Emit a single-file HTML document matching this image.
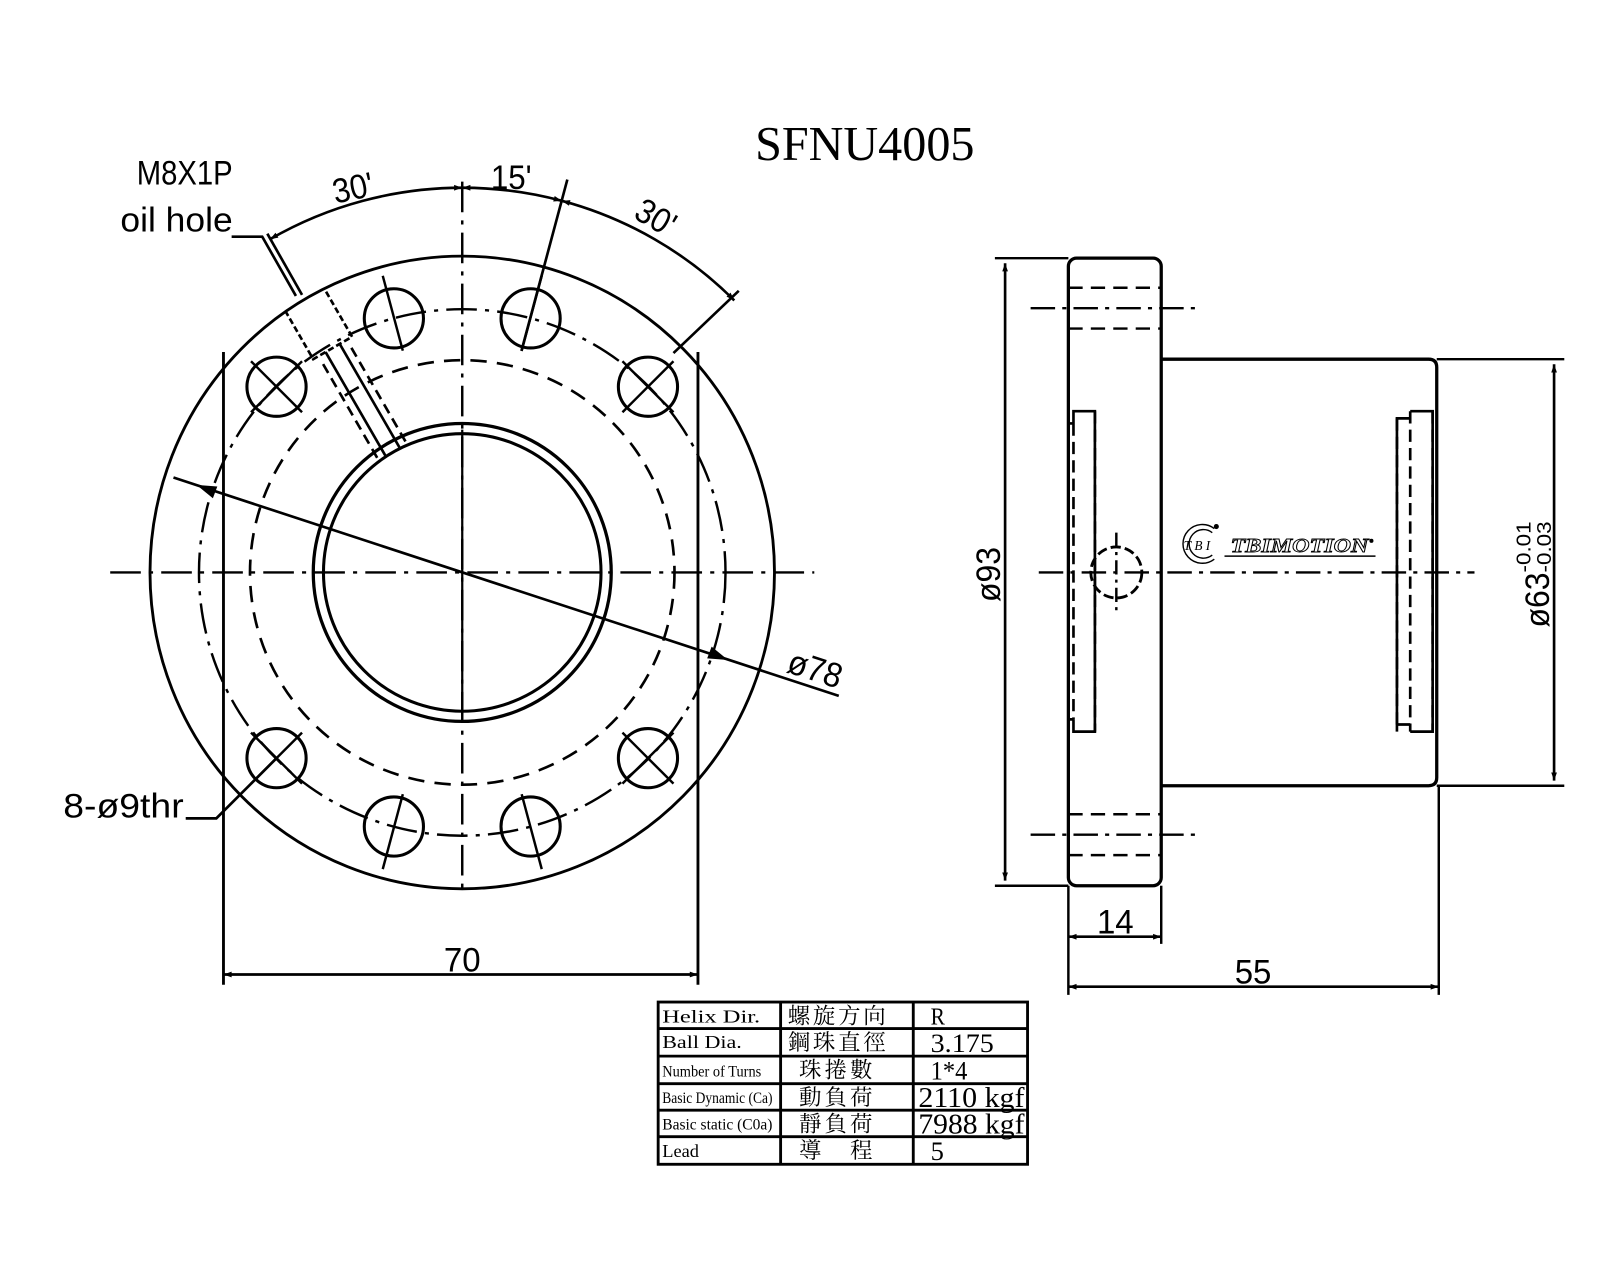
<!DOCTYPE html>
<html><head><meta charset="utf-8"><style>
html,body{margin:0;padding:0;background:#fff}
svg{display:block}
text{font-family:"Liberation Sans","Noto Sans CJK TC",sans-serif;fill:#000}
.s{font-family:"Liberation Serif","Noto Serif CJK SC",serif}
</style></head><body>
<svg width="1600" height="1280" viewBox="0 0 1568 1254.4" xmlns="http://www.w3.org/2000/svg">
<defs>
<marker id="a" viewBox="0 0 10 10" refX="10" refY="5" markerWidth="14" markerHeight="8" orient="auto-start-reverse" markerUnits="userSpaceOnUse"><path d="M0,1.5 L10,5 L0,8.5 z" fill="#000"/></marker>
</defs>
<g fill="none" stroke="#000" stroke-width="2.8">
<!-- LEFT VIEW -->
<ellipse cx="453" cy="561" rx="306" ry="310"/>
<line x1="219" y1="345" x2="219" y2="965"/>
<line x1="684" y1="345" x2="684" y2="965"/>
<circle cx="453" cy="561" r="258" stroke-dasharray="30,8,4,8" stroke-width="2.4"/>
<circle cx="453" cy="561" r="208" stroke-dasharray="16,10" stroke-width="2.6"/>
<circle cx="453" cy="561" r="146" stroke-width="3.2"/>
<circle cx="453" cy="561" r="136" stroke-width="3"/>
<line x1="453" y1="421" x2="453" y2="700" stroke-width="2.2"/>
<!-- centerlines -->
<line x1="108" y1="561" x2="798" y2="561" stroke-dasharray="30,8,4,8" stroke-width="2.4"/>
<line x1="453" y1="178" x2="453" y2="872" stroke-dasharray="30,8,4,8" stroke-width="2.4"/>
<!-- holes -->
<g stroke-width="3">
<circle cx="386" cy="312" r="29"/><circle cx="520" cy="312" r="29"/>
<circle cx="635" cy="379" r="29"/><circle cx="271" cy="379" r="29"/>
<circle cx="635" cy="743" r="29"/><circle cx="271" cy="743" r="29"/>
<circle cx="386" cy="810" r="29"/><circle cx="520" cy="810" r="29"/>
</g>
<g stroke-width="2.4">
<g transform="rotate(15 453 561)"><line x1="453" y1="260" x2="453" y2="336"/></g>
<g transform="rotate(-15 453 561)"><line x1="453" y1="260" x2="453" y2="336"/></g>
<g transform="rotate(165 453 561)"><line x1="453" y1="260" x2="453" y2="336"/></g>
<g transform="rotate(-165 453 561)"><line x1="453" y1="260" x2="453" y2="336"/></g>
<line x1="610" y1="354" x2="660" y2="404"/><line x1="610" y1="404" x2="660" y2="354"/>
<line x1="246" y1="354" x2="296" y2="404"/><line x1="246" y1="404" x2="296" y2="354"/>
<line x1="610" y1="718" x2="660" y2="768"/><line x1="610" y1="768" x2="660" y2="718"/>
<line x1="246" y1="718" x2="296" y2="768"/><line x1="246" y1="768" x2="296" y2="718"/>
</g>
<!-- oil hole -->
<g transform="rotate(-30 453 561)" stroke-width="2.6">
<path d="M431,252 V307 H475 V252" stroke-dasharray="6,3"/>
<line x1="445" y1="307" x2="445" y2="424"/>
<line x1="461" y1="307" x2="461" y2="424"/>
<line x1="437" y1="316" x2="437" y2="424" stroke-dasharray="10,6"/>
<line x1="469" y1="316" x2="469" y2="424" stroke-dasharray="10,6"/>
</g>
<!-- angle dims -->
<path d="M264.5,234.5 A377,377 0 0 1 453,184" marker-start="url(#a)" marker-end="url(#a)" stroke-width="2.6"/>
<path d="M453,184 A377,377 0 0 1 550.6,196.8" marker-start="url(#a)" marker-end="url(#a)" stroke-width="2.6"/>
<path d="M550.6,196.8 A377,377 0 0 1 719.6,294.4" marker-start="url(#a)" marker-end="url(#a)" stroke-width="2.6"/>
<line x1="511" y1="344" x2="556" y2="176" stroke-width="2.6"/>
<line x1="660" y1="346" x2="724" y2="285" stroke-width="2.6"/>
<!-- oil hole leader -->
<polyline points="227,232 257,232 290,290" stroke-width="2.6"/>
<line x1="262" y1="229" x2="296" y2="289" stroke-width="2.6"/>
<!-- dia78 -->
<line x1="170" y1="468" x2="822" y2="682" stroke-width="2.6"/>
<path d="M197,477 l14,1 l-3,8 z" fill="#000"/>
<path d="M709,645 l-14,-1 l3,-8 z" fill="#000"/>
<!-- 8-hole leader -->
<polyline points="182,802 212,802 271,743" stroke-width="2.6"/>
<!-- 70 dim -->
<line x1="219" y1="955" x2="684" y2="955" marker-start="url(#a)" marker-end="url(#a)" stroke-width="2.6"/>

<!-- RIGHT VIEW -->
<rect x="1047" y="253" width="91" height="615" rx="8" stroke-width="3.2"/>
<path d="M1138,352 H1400 Q1408,352 1408,360 V762 Q1408,770 1400,770 H1138" stroke-width="3.2"/>
<line x1="1047" y1="253" x2="975" y2="253" stroke-width="2.4"/>
<line x1="1047" y1="868" x2="975" y2="868" stroke-width="2.4"/>
<line x1="985" y1="258" x2="985" y2="863" marker-start="url(#a)" marker-end="url(#a)" stroke-width="2.6"/>
<line x1="1408" y1="352" x2="1533" y2="352" stroke-width="2.4"/>
<line x1="1408" y1="770" x2="1533" y2="770" stroke-width="2.4"/>
<line x1="1523" y1="357" x2="1523" y2="765" marker-start="url(#a)" marker-end="url(#a)" stroke-width="2.6"/>
<line x1="1018" y1="561" x2="1445" y2="561" stroke-dasharray="24,7,4,7" stroke-width="2.4"/>
<line x1="1010" y1="302" x2="1175" y2="302" stroke-dasharray="24,7,4,7" stroke-width="2.4"/>
<line x1="1010" y1="818" x2="1175" y2="818" stroke-dasharray="24,7,4,7" stroke-width="2.4"/>
<line x1="1047" y1="282" x2="1138" y2="282" stroke-dasharray="14,8" stroke-width="2.4"/>
<line x1="1047" y1="322" x2="1138" y2="322" stroke-dasharray="14,8" stroke-width="2.4"/>
<line x1="1047" y1="798" x2="1138" y2="798" stroke-dasharray="14,8" stroke-width="2.4"/>
<line x1="1047" y1="838" x2="1138" y2="838" stroke-dasharray="14,8" stroke-width="2.4"/>
<!-- left dashed rect -->
<path d="M1052,415 V403 H1073 V717 H1052 V705 M1047,415 H1052 M1047,705 H1052" stroke-width="2.6"/>
<line x1="1052" y1="415" x2="1052" y2="705" stroke-dasharray="12,6" stroke-width="2.6"/>
<line x1="1073" y1="403" x2="1073" y2="717" stroke-dasharray="12,6" stroke-width="2.6"/>
<!-- right dashed rects -->
<path d="M1369,717 V410 H1382 M1382,403 H1404 V717 H1382 M1369,710 H1382" stroke-width="2.6"/>
<line x1="1369" y1="410" x2="1369" y2="710" stroke-dasharray="12,6" stroke-width="2.6"/>
<line x1="1382" y1="403" x2="1382" y2="717" stroke-dasharray="12,6" stroke-width="2.6"/>
<line x1="1404" y1="403" x2="1404" y2="717" stroke-dasharray="12,6" stroke-width="2.6"/>
<!-- small circle -->
<circle cx="1094" cy="561" r="25" stroke-dasharray="10,4" stroke-width="2.8"/>
<line x1="1094" y1="522" x2="1094" y2="602" stroke-dasharray="14,5,3,5" stroke-width="2.4"/>
<!-- 14 / 55 dims -->
<line x1="1047" y1="868" x2="1047" y2="975" stroke-width="2.4"/>
<line x1="1138" y1="868" x2="1138" y2="925" stroke-width="2.4"/>
<line x1="1410" y1="770" x2="1410" y2="975" stroke-width="2.4"/>
<line x1="1047" y1="918" x2="1138" y2="918" marker-start="url(#a)" marker-end="url(#a)" stroke-width="2.6"/>
<line x1="1047" y1="967" x2="1410" y2="967" marker-start="url(#a)" marker-end="url(#a)" stroke-width="2.6"/>
<!-- logo -->
<path d="M1190,518 A19,19 0 1 0 1190,548" stroke-width="1.4"/>
<path d="M1188,522 A14,14 0 1 0 1188,544" stroke-width="1.4"/>
<line x1="1200" y1="545" x2="1348" y2="545" stroke-width="1.4"/>
</g>
<circle cx="1192" cy="516" r="2.5" fill="#000"/>
<text x="1160" y="539" class="s" font-size="13" font-style="italic" textLength="26">TBI</text>
<text x="1206" y="541" class="s" font-size="20" font-style="italic" font-weight="bold" textLength="135" lengthAdjust="spacingAndGlyphs" stroke="#000" stroke-width="0.9" style="fill:#fff">TBIMOTION</text>
<circle cx="1344" cy="530" r="2" fill="#000"/>

<!-- texts -->
<text x="740" y="157" class="s" font-size="48" textLength="215" lengthAdjust="spacingAndGlyphs">SFNU4005</text>
<g font-size="34">
<text x="134" y="181" textLength="94" lengthAdjust="spacingAndGlyphs">M8X1P</text>
<text x="118" y="227" textLength="110" lengthAdjust="spacingAndGlyphs">oil hole</text>
<text x="326" y="196" transform="rotate(-12 345 185)" textLength="40" lengthAdjust="spacingAndGlyphs">30'</text>
<text x="481" y="185" textLength="40" lengthAdjust="spacingAndGlyphs">15'</text>
<text x="622" y="226" transform="rotate(30 645 215)" textLength="40" lengthAdjust="spacingAndGlyphs">30'</text>
<text x="772" y="666" transform="rotate(18 795 655)" textLength="54" lengthAdjust="spacingAndGlyphs">ø78</text>
<text x="62" y="801" textLength="118" lengthAdjust="spacingAndGlyphs">8-ø9thr</text>
<text x="435" y="952" textLength="36" lengthAdjust="spacingAndGlyphs">70</text>
<text x="1075" y="915" textLength="36" lengthAdjust="spacingAndGlyphs">14</text>
<text x="1210" y="964" textLength="36" lengthAdjust="spacingAndGlyphs">55</text>
<text x="0" y="0" transform="translate(980,590) rotate(-90)" textLength="54" lengthAdjust="spacingAndGlyphs">ø93</text>
<text x="0" y="0" transform="translate(1518,615) rotate(-90)" textLength="54" lengthAdjust="spacingAndGlyphs">ø63</text>
</g>
<text x="0" y="0" font-size="20" transform="translate(1500,561) rotate(-90)" textLength="50" lengthAdjust="spacingAndGlyphs">-0.01</text>
<text x="0" y="0" font-size="20" transform="translate(1520,561) rotate(-90)" textLength="50" lengthAdjust="spacingAndGlyphs">-0.03</text>

<!-- table -->
<g fill="none" stroke="#000" stroke-width="2.8">
<rect x="645" y="982" width="362" height="159"/>
<line x1="765" y1="982" x2="765" y2="1141"/>
<line x1="895" y1="982" x2="895" y2="1141"/>
<line x1="645" y1="1008" x2="1007" y2="1008"/>
<line x1="645" y1="1035" x2="1007" y2="1035"/>
<line x1="645" y1="1062" x2="1007" y2="1062"/>
<line x1="645" y1="1088" x2="1007" y2="1088"/>
<line x1="645" y1="1114" x2="1007" y2="1114"/>
</g>
<g class="s">
<text x="649" y="1002" class="s" font-size="18" textLength="96" lengthAdjust="spacingAndGlyphs">Helix  Dir.</text>
<text x="649" y="1027" class="s" font-size="18" textLength="78" lengthAdjust="spacingAndGlyphs">Ball Dia.</text>
<text x="649" y="1055" class="s" font-size="15" textLength="97" lengthAdjust="spacingAndGlyphs">Number of Turns</text>
<text x="649" y="1081" class="s" font-size="15" textLength="108" lengthAdjust="spacingAndGlyphs">Basic Dynamic (Ca)</text>
<text x="649" y="1107" class="s" font-size="15" textLength="108" lengthAdjust="spacingAndGlyphs">Basic static (C0a)</text>
<text x="649" y="1134" class="s" font-size="18">Lead</text>
<text x="772" y="1003" class="s" font-size="22" textLength="96">螺旋方向</text>
<text x="772" y="1029" class="s" font-size="22" textLength="96">鋼珠直徑</text>
<text x="783" y="1056" class="s" font-size="22" textLength="72">珠捲數</text>
<text x="783" y="1083" class="s" font-size="22" textLength="72">動負荷</text>
<text x="783" y="1109" class="s" font-size="22" textLength="72">靜負荷</text>
<text x="783" y="1135" class="s" font-size="22" textLength="72">導　程</text>
<text x="912" y="1004" class="s" font-size="24" textLength="14" lengthAdjust="spacingAndGlyphs">R</text>
<text x="912" y="1031" class="s" font-size="26" textLength="62" lengthAdjust="spacingAndGlyphs">3.175</text>
<text x="912" y="1058" class="s" font-size="26" textLength="36" lengthAdjust="spacingAndGlyphs">1*4</text>
<text x="900" y="1085" class="s" font-size="28" textLength="104" lengthAdjust="spacingAndGlyphs">2110 kgf</text>
<text x="900" y="1111" class="s" font-size="28" textLength="104" lengthAdjust="spacingAndGlyphs">7988 kgf</text>
<text x="912" y="1137" class="s" font-size="26">5</text>
</g>
</svg>
</body></html>
